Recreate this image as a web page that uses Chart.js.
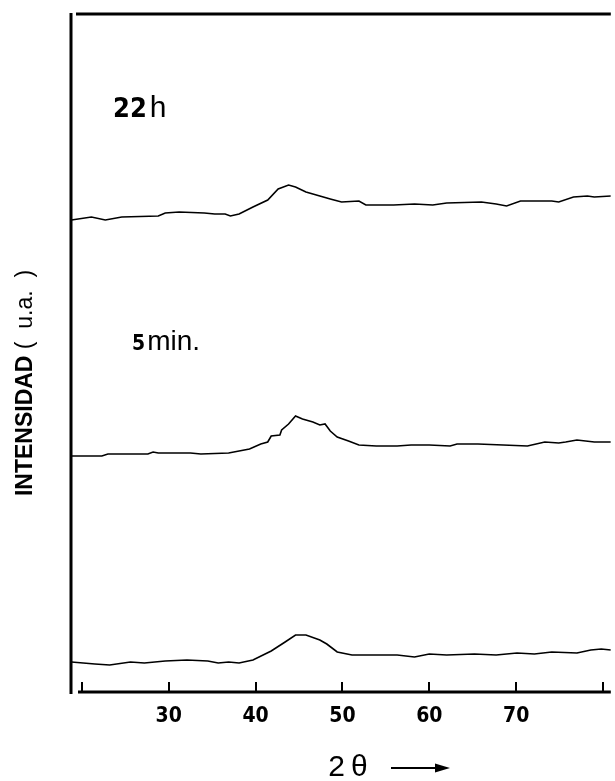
<!DOCTYPE html>
<html>
<head>
<meta charset="utf-8">
<script src="https://cdn.jsdelivr.net/npm/chart.js@4/dist/chart.umd.min.js"></script>
<style>
  html, body { margin: 0; padding: 0; background: #fff; }
  #wrap { width: 615px; height: 781px; }
</style>
</head>
<body>
<div id="wrap"><canvas id="xrdChart" width="615" height="781"></canvas></div>
<script>
const theta22h = [18.8, 21.1, 22.7, 24.6, 28.8, 29.6, 31.2, 34.1, 35.3, 36.5, 37.1, 38.1, 39.7, 41.4, 42.6, 43.8, 44.6, 45.8, 47.4, 48.6, 49.9, 51.9, 52.7, 55.9, 58.3, 60.4, 62.0, 66.0, 67.7, 68.9, 70.5, 74.1, 74.9, 76.6, 78.2, 79.0, 80.9];
const int22h = [472, 475, 472, 475, 476, 479, 480, 479, 478, 478, 476, 478, 485, 492, 503, 507, 505, 500, 496, 493, 490, 491, 487, 487, 488, 487, 489, 490, 488, 486, 491, 491, 490, 495, 496, 495, 496];

const theta5min = [18.8, 22.3, 23.0, 27.6, 28.2, 28.8, 31.7, 32.5, 33.7, 36.9, 39.3, 40.6, 41.4, 41.8, 42.8, 43.0, 43.8, 44.6, 45.4, 46.6, 47.4, 48.0, 48.6, 49.4, 50.7, 51.9, 53.9, 56.3, 57.9, 60.0, 62.4, 63.2, 65.6, 68.5, 71.3, 73.3, 74.9, 75.7, 77.0, 79.0, 80.9];
const int5min = [236, 236, 238, 238, 240, 239, 239, 239, 238, 239, 243, 248, 250, 256, 257, 262, 268, 276, 273, 270, 267, 268, 261, 255, 251, 247, 246, 246, 247, 247, 246, 248, 248, 247, 246, 250, 249, 250, 252, 250, 250];

const theta0 = [18.8, 21.5, 23.2, 25.6, 27.2, 29.6, 32.1, 34.5, 35.7, 36.9, 38.1, 39.7, 41.8, 43.4, 44.6, 45.8, 47.4, 48.2, 49.4, 51.1, 53.9, 56.3, 58.3, 60.0, 62.0, 65.2, 67.7, 70.1, 72.1, 74.1, 77.0, 78.6, 79.8, 80.9];
const int0 = [30, 28, 27, 30, 29, 31, 32, 31, 29, 30, 29, 32, 41, 50, 57, 57, 52, 48, 40, 37, 37, 37, 35, 38, 37, 38, 37, 39, 38, 40, 39, 42, 43, 42];

// Marcas del eje x
const xTickValues = [20, 30, 40, 50, 60, 70, 80];
const xTickLabels = ['', '30', '40', '50', '60', '70', ''];

// Etiquetas de las curvas
const curveLabels = ['22h', '5min.'];

const narrowFont = '"Liberation Sans Narrow", "DejaVu Sans Condensed", sans-serif';

function toPoints(xs, ys) {
    return xs.map((x, i) => ({ x: x, y: ys[i] }));
}

function serie(label, xs, ys) {
    return {
        label: label,
        data: toPoints(xs, ys),
        borderColor: '#000',
        borderWidth: 1.6,
        pointRadius: 0,
        tension: 0,
        fill: false
    };
}

// Marco, marcas hacia dentro, textos y flecha
const framePlugin = {
    id: 'frame',
    afterDraw(chart) {
        const ctx = chart.ctx;
        const a = chart.chartArea;
        const xs = chart.scales.x;
        ctx.save();
        ctx.strokeStyle = '#000';
        ctx.lineCap = 'butt';

        ctx.lineWidth = 3;
        ctx.beginPath();
        ctx.moveTo(a.left, a.top - 1);
        ctx.lineTo(a.left, a.bottom + 2);
        ctx.moveTo(a.left + 5, a.top);
        ctx.lineTo(a.right, a.top);
        ctx.moveTo(a.left + 7, a.bottom);
        ctx.lineTo(a.right, a.bottom);
        ctx.stroke();

        ctx.lineWidth = 2;
        ctx.beginPath();
        xTickValues.forEach(v => {
            const px = Math.round(xs.getPixelForValue(v));
            ctx.moveTo(px, a.bottom);
            ctx.lineTo(px, a.bottom - 10);
        });
        ctx.stroke();

        ctx.fillStyle = '#000';
        ctx.textBaseline = 'alphabetic';
        ctx.textAlign = 'left';

        // 22h
        ctx.font = 'bold 27px ' + narrowFont;
        ctx.fillText('22', 113, 117);
        let w = ctx.measureText('22').width;
        ctx.font = '30px "Liberation Sans"';
        ctx.fillText('h', 113 + w + 3, 117);

        // 5min.
        ctx.font = 'bold 21px ' + narrowFont;
        ctx.fillText('5', 132, 350);
        w = ctx.measureText('5').width;
        ctx.font = '28px "Liberation Sans"';
        ctx.fillText('min.', 132 + w + 2, 350);

        // titulo eje y
        ctx.save();
        ctx.translate(26, 383);
        ctx.rotate(-Math.PI / 2);
        ctx.font = 'bold 23px "Liberation Sans"';
        const t1 = 'INTENSIDAD';
        const w1 = ctx.measureText(t1).width;
        ctx.font = '23px "Liberation Sans"';
        const t2 = ' (  u.a.  )';
        const w2 = ctx.measureText(t2).width;
        const start = -(w1 + w2) / 2;
        ctx.textBaseline = 'middle';
        ctx.font = 'bold 23px "Liberation Sans"';
        ctx.fillText(t1, start, 0);
        ctx.font = '23px "Liberation Sans"';
        ctx.fillText(t2, start + w1, 0);
        ctx.restore();

        // titulo eje x con flecha
        ctx.font = '30px "Liberation Sans"';
        ctx.textAlign = 'center';
        ctx.textBaseline = 'middle';
        ctx.fillText('2\u2009\u03B8', 348, 768);
        ctx.lineWidth = 2;
        ctx.beginPath();
        ctx.moveTo(391, 768);
        ctx.lineTo(437, 768);
        ctx.stroke();
        ctx.beginPath();
        ctx.moveTo(450, 768);
        ctx.lineTo(435, 763.5);
        ctx.lineTo(435, 772.5);
        ctx.closePath();
        ctx.fill();

        ctx.restore();
    }
};

const ctx = document.getElementById('xrdChart').getContext('2d');
const xrdChart = new Chart(ctx, {
    type: 'line',
    data: {
        datasets: [
            serie(curveLabels[0], theta22h, int22h),
            serie(curveLabels[1], theta5min, int5min),
            serie('inicial', theta0, int0)
        ]
    },
    options: {
        responsive: false,
        animation: false,
        events: [],
        layout: { padding: { left: 71, right: 0, top: 14, bottom: 0 } },
        plugins: {
            legend: { display: false },
            tooltip: { enabled: false }
        },
        scales: {
            x: {
                type: 'linear',
                min: 18.75,
                max: 80.9,
                afterBuildTicks: scale => {
                    scale.ticks = xTickValues.map(v => ({ value: v }));
                },
                afterFit: scale => { scale.height = 89; },
                grid: { display: false, drawTicks: false },
                border: { display: false },
                ticks: {
                    autoSkip: false,
                    maxRotation: 0,
                    padding: 12,
                    color: '#000',
                    font: { family: narrowFont, weight: 'bold', size: 21 },
                    callback: (value, index) => xTickLabels[index]
                }
            },
            y: {
                type: 'linear',
                min: 0,
                max: 678,
                display: false
            }
        }
    },
    plugins: [framePlugin]
});
</script>
</body>
</html>
